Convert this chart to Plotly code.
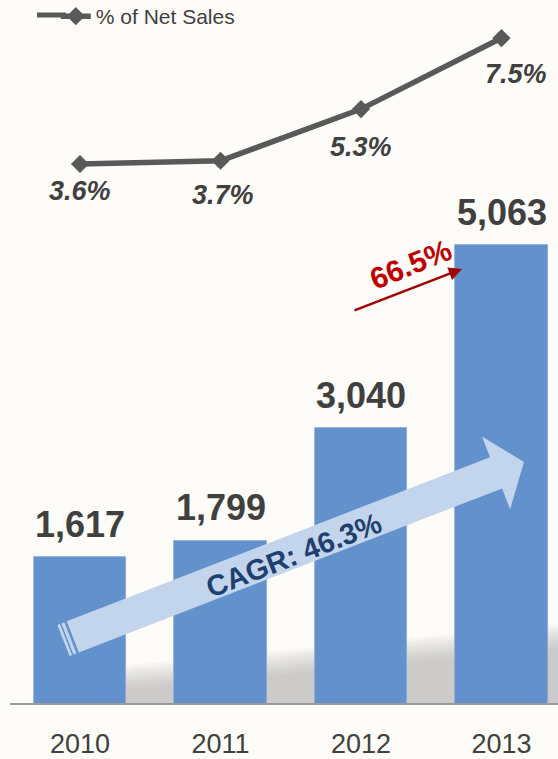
import math
import plotly.graph_objects as go

# ---- data ----
years = ["2010", "2011", "2012", "2013"]
sales = [1617, 1799, 3040, 5063]
pct_net_sales = [3.6, 3.7, 5.3, 7.5]
cagr_label = "CAGR: 46.3%"
last_growth_label = "66.5%"

# ---- canvas ----
W, H = 558, 759
FONT = "Liberation Sans, Arial, sans-serif"
DARK = "#404040"
BAR_BLUE = "#6391CB"
ARROW_BLUE = "#C3D5EC"
LINE_GRAY = "#595959"

BASE_PX = 704            # pixel row of the category axis line
AXIS_LEFT_PX = 10
FIRST_CENTER_PX = 80
STEP_PX = 140.5
LEGEND_ROW_PX = 15

x_lo = (AXIS_LEFT_PX - FIRST_CENTER_PX) / STEP_PX
x_hi = x_lo + (W - AXIS_LEFT_PX) / STEP_PX
y_dom0 = (H - BASE_PX) / H

bar_scale = 459 / 5063            # px per sales unit
y_hi = BASE_PX / bar_scale

pct_px_per_unit = 32.3
pct_ref_val, pct_ref_px = 3.6, 164
y2_lo = pct_ref_val - (BASE_PX - pct_ref_px) / pct_px_per_unit
y2_hi = pct_ref_val + pct_ref_px / pct_px_per_unit


def to_paper(px, py):
    return px / W, 1 - py / H


def path_from_px(points):
    pts = [to_paper(px, py) for px, py in points]
    return "M " + " L ".join(f"{x:.5f},{y:.5f}" for x, y in pts) + " Z"


fig = go.Figure()

fig.add_trace(go.Bar(
    x=list(range(len(years))), y=sales,
    marker=dict(color=BAR_BLUE, line=dict(color="#8DAAD6", width=0.8)),
    width=0.66, showlegend=False, yaxis="y", hoverinfo="skip",
))

fig.add_trace(go.Scatter(
    x=list(range(len(years))), y=pct_net_sales,
    mode="lines+markers", name="% of Net Sales", yaxis="y2",
    line=dict(color=LINE_GRAY, width=5.5),
    marker=dict(symbol="diamond", size=14, color=LINE_GRAY),
    hoverinfo="skip",
))

shapes = []

# soft floor shadow behind the bars
for drop in range(0, 27, 3):
    shapes.append(dict(
        type="path", xref="paper", yref="paper", layer="below",
        path=path_from_px([(118, 666 + drop), (558, 624 + drop),
                           (558, BASE_PX), (118, BASE_PX)]),
        fillcolor="rgba(150,150,150,0.07)", line=dict(width=0),
    ))

# axis line
shapes.append(dict(
    type="line", xref="paper", yref="paper",
    x0=AXIS_LEFT_PX / W, x1=1, y0=1 - BASE_PX / H, y1=1 - BASE_PX / H,
    line=dict(color="#9A9A9A", width=2),
))

# lead-in of the legend line glyph
shapes.append(dict(
    type="line", xref="paper", yref="paper",
    x0=37 / W, x1=66 / W, y0=1 - LEGEND_ROW_PX / H, y1=1 - LEGEND_ROW_PX / H,
    line=dict(color=LINE_GRAY, width=5),
))

# big growth arrow
tail = (72.8, 636.9)
tip = (524, 462)
dx, dy = tip[0] - tail[0], tip[1] - tail[1]
length = math.hypot(dx, dy)
ux, uy = dx / length, dy / length
nx, ny = -uy, ux
shaft_half, head_half, head_len = 16.7, 39, 30


def along(s, t):
    return (tail[0] + ux * s + nx * t, tail[1] + uy * s + ny * t)


hb = length - head_len
arrow_pts = [along(0, -shaft_half), along(hb, -shaft_half), along(hb, -head_half),
             along(length, 0), along(hb, head_half), along(hb, shaft_half),
             along(0, shaft_half)]
shapes.append(dict(type="path", xref="paper", yref="paper",
                   path=path_from_px(arrow_pts), fillcolor=ARROW_BLUE,
                   line=dict(width=0)))
for s0, s1 in [(-10, -7.3), (-5.8, -2.6)]:
    stripe = [along(s0, -shaft_half), along(s1, -shaft_half),
              along(s1, shaft_half), along(s0, shaft_half)]
    shapes.append(dict(type="path", xref="paper", yref="paper",
                       path=path_from_px(stripe), fillcolor=ARROW_BLUE,
                       line=dict(width=0)))

angle = -math.degrees(math.atan2(-dy, dx))

annotations = []

# sales labels above bars
for i, v in enumerate(sales):
    annotations.append(dict(
        x=i, y=v, xref="x", yref="y", text=f"<b>{v:,}</b>", showarrow=False,
        yshift=33, font=dict(family=FONT, size=36, color=DARK),
        xanchor="center", yanchor="middle",
    ))

# percentage labels under the line markers
pct_shifts = [(0, -27), (2, -34), (0, -38), (14, -36)]
for i, (v, (xs, ys)) in enumerate(zip(pct_net_sales, pct_shifts)):
    annotations.append(dict(
        x=i, y=v, xref="x", yref="y2", text=f"<b><i>{v:.1f}%</i></b>",
        showarrow=False, xshift=xs, yshift=ys,
        font=dict(family=FONT, size=27, color=DARK),
        xanchor="center", yanchor="middle",
    ))

# CAGR text along the arrow
cx, cy = to_paper(294, 555)
annotations.append(dict(
    x=cx, y=cy, xref="paper", yref="paper", text=f"<b>{cagr_label}</b>",
    showarrow=False, textangle=angle,
    font=dict(family=FONT, size=29, color="#1F3F6E"),
    xanchor="center", yanchor="middle",
))

# year-over-year growth callout
tx, ty = to_paper(462, 269)
annotations.append(dict(
    x=tx, y=ty, xref="paper", yref="paper", text="", showarrow=True,
    ax=-109, ay=42, axref="pixel", ayref="pixel",
    arrowhead=2, arrowsize=1.1, arrowwidth=2.4, arrowcolor="#A00000",
))
gx, gy = to_paper(410, 264)
annotations.append(dict(
    x=gx, y=gy, xref="paper", yref="paper", text=f"<b>{last_growth_label}</b>",
    showarrow=False, textangle=-22,
    font=dict(family=FONT, size=30, color="#C00000"),
    xanchor="center", yanchor="middle",
))

fig.update_layout(
    width=W, height=H,
    margin=dict(l=0, r=0, t=0, b=0, pad=0, autoexpand=False),
    paper_bgcolor="#FEFCF8", plot_bgcolor="rgba(0,0,0,0)",
    font=dict(family=FONT, color=DARK),
    bargap=0,
    xaxis=dict(
        domain=[AXIS_LEFT_PX / W, 1], range=[x_lo, x_hi], automargin=False,
        tickmode="array", tickvals=list(range(len(years))), ticktext=years,
        ticks="outside", ticklen=16, tickcolor="rgba(0,0,0,0)",
        tickfont=dict(family=FONT, size=27, color=DARK),
        showgrid=False, zeroline=False, showline=False, fixedrange=True,
    ),
    yaxis=dict(
        domain=[y_dom0, 1], range=[0, y_hi], visible=False, automargin=False,
        showgrid=False, zeroline=False, fixedrange=True,
    ),
    yaxis2=dict(
        domain=[y_dom0, 1], range=[y2_lo, y2_hi], overlaying="y",
        visible=False, showgrid=False, zeroline=False, fixedrange=True,
    ),
    showlegend=True,
    legend=dict(
        x=0.1, y=1.0 + 4 / H, xanchor="left", yanchor="top",
        bgcolor="rgba(0,0,0,0)", borderwidth=0,
        font=dict(family=FONT, size=21, color=DARK),
    ),
    shapes=shapes,
    annotations=annotations,
)

fig.write_html("out.html")
